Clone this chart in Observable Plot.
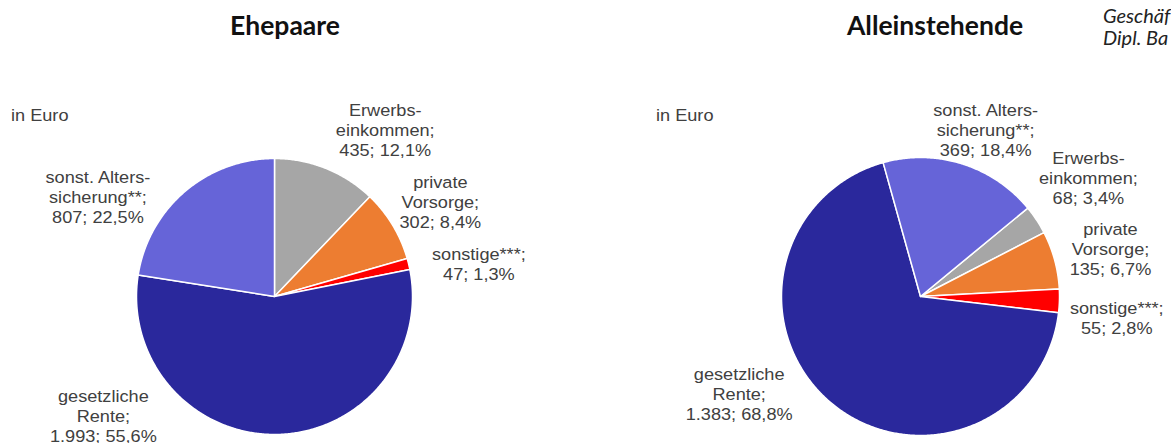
<!DOCTYPE html>
<html><head><meta charset="utf-8">
<script src="https://cdn.jsdelivr.net/npm/d3@7"></script>
<script src="https://cdn.jsdelivr.net/npm/@observablehq/plot@0.6"></script>
<style>
html,body{margin:0;padding:0;background:#fff;}
#wrap{position:relative;width:1171px;height:443px;overflow:hidden;background:#fff;}
.title{position:absolute;top:10px;font-family:Lato,sans-serif;font-weight:700;font-size:26.5px;line-height:30px;color:#111;transform:translateX(-50%);white-space:nowrap;}
.unit{position:absolute;top:104.5px;font-family:"Liberation Sans",Arial,sans-serif;font-size:16.5px;line-height:20px;color:#404040;transform:scaleX(1.1);transform-origin:left center;white-space:nowrap;}
.note{position:absolute;left:1103px;top:3.5px;font-family:Lato,sans-serif;font-style:italic;font-size:20px;line-height:22px;color:#222;white-space:nowrap;}
.panel{position:absolute;top:60px;}
</style></head>
<body><div id="wrap"></div>
<script>
// ---- data ----
const categories = ["Erwerbseinkommen", "private Vorsorge", "sonstige", "gesetzliche Rente", "sonst. Alterssicherung"];
const categoryLabels = ["Erwerbs-\neinkommen;", "private\nVorsorge;", "sonstige***;", "gesetzliche\nRente;", "sonst. Alters-\nsicherung**;"];
const ehepaareValues = [435, 302, 47, 1993, 807];
const ehepaarePercent = [12.1, 8.4, 1.3, 55.6, 22.5];
const alleinValues = [68, 135, 55, 1383, 369];
const alleinPercent = [3.4, 6.7, 2.8, 68.8, 18.4];
const panelTitles = ["Ehepaare", "Alleinstehende"];
const unitLabel = "in Euro";
const noteLines = ["Geschäf", "Dipl. Ba"];

// ---- styles / layout ----
const colors = ["#a6a6a6", "#ed7d31", "#ff0000", "#2a289c", "#6664d8"];
const layouts = [
  {left: 0, width: 585, height: 383, cx: 274, cy: 236, r: 138, start: 0,
   labelAngle: [33.6, 60.2, 80.9, 235.2, 299.5], labelDist: [1.45, 1.385, 1.50, 1.51, 1.47], titleX: 285, unitX: 11},
  {left: 585, width: 586, height: 383, cx: 335, cy: 236, r: 139, start: 50.5,
   labelAngle: [54.7, 75.8, 96.1, 241.8, 21.3], labelDist: [1.48, 1.41, 1.42, 1.48, 1.29], titleX: 935, unitX: 656}
];
const textStretch = 1.1;
const de = d3.formatLocale({decimal: ",", thousands: ".", grouping: [3], currency: ["", " €"]});
const fmtInt = de.format(",d");
const fmtPct = de.format(".1f");

const wrap = document.getElementById("wrap");
const series = [[ehepaareValues, ehepaarePercent], [alleinValues, alleinPercent]];

series.forEach(([values, pcts], i) => {
  const L = layouts[i];
  const rows = categories.map((c, j) => ({cat: c, value: values[j], pct: pcts[j], label: categoryLabels[j]}));
  const a0 = L.start * Math.PI / 180;
  const arcs = d3.pie().sort(null).value(d => d.value).startAngle(a0).endAngle(a0 + 2 * Math.PI)(rows);
  const pts = [];
  arcs.forEach(a => {
    pts.push({cat: a.data.cat, x: 0, y: 0});
    const n = Math.max(2, Math.ceil((a.endAngle - a.startAngle) / (Math.PI / 360)));
    for (let k = 0; k <= n; k++) {
      const t = a.startAngle + (a.endAngle - a.startAngle) * k / n;
      pts.push({cat: a.data.cat, x: Math.sin(t), y: Math.cos(t)});
    }
  });
  const labels = rows.map((d, j) => {
    const t = L.labelAngle[j] * Math.PI / 180;
    return {x: L.labelDist[j] * Math.sin(t), y: L.labelDist[j] * Math.cos(t),
            text: d.label + "\n" + fmtInt(d.value) + "; " + fmtPct(d.pct) + "%"};
  });
  const chart = Plot.plot({
    width: L.width, height: L.height,
    margin: 0,
    x: {domain: [-L.cx / L.r, (L.width - L.cx) / L.r], axis: null},
    y: {domain: [-(L.height - L.cy) / L.r, L.cy / L.r], axis: null},
    color: {domain: categories, range: colors},
    style: {background: "white", overflow: "visible"},
    marks: [
      Plot.line(pts, {x: "x", y: "y", z: "cat", fill: "cat", stroke: "#ffffff", strokeWidth: 1.5, curve: "linear-closed", strokeLinejoin: "round"}),
      Plot.text(labels, {x: "x", y: "y", text: "text", fill: "#404040", fontSize: 16.5, lineHeight: 1.2,
        textAnchor: "middle", fontFamily: "'Liberation Sans', Arial, sans-serif"})
    ]
  });
  const holder = document.createElement("div");
  holder.className = "panel";
  holder.style.left = L.left + "px";
  holder.appendChild(chart);
  wrap.appendChild(holder);
  // widen label glyphs slightly around their own centre, like the reference
  chart.querySelectorAll("g[aria-label='text'] text").forEach(el => {
    const b = el.getBBox();
    const cx = b.x + b.width / 2;
    const prev = el.getAttribute("transform") || "";
    el.setAttribute("transform", `${prev} translate(${cx},0) scale(${textStretch},1) translate(${-cx},0)`);
  });

  const t = document.createElement("div");
  t.className = "title"; t.style.left = L.titleX + "px"; t.textContent = panelTitles[i];
  wrap.appendChild(t);
  const u = document.createElement("div");
  u.className = "unit"; u.style.left = L.unitX + "px"; u.textContent = unitLabel;
  wrap.appendChild(u);
});
const note = document.createElement("div");
note.className = "note"; note.innerHTML = noteLines.join("<br>");
wrap.appendChild(note);
</script>
</body></html>
